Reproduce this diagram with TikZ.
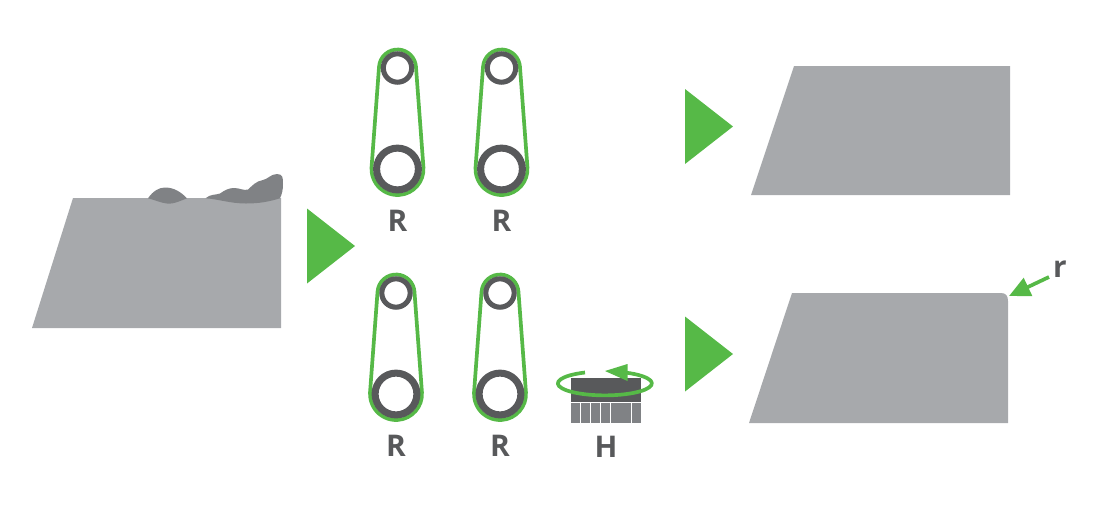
\documentclass[tikz,border=0pt]{standalone}
\usepackage{fontspec}
\setmainfont{Open Sans}
\usetikzlibrary{arrows.meta,calc}
\definecolor{beltgreen}{HTML}{56B947}
\definecolor{darkgray}{HTML}{58595B}
\definecolor{midgray}{HTML}{808285}
\definecolor{lightgray}{HTML}{A7A9AC}
\tikzset{
  block/.style={fill=lightgray},
  deposit/.style={fill=midgray},
  playarrow/.style={fill=beltgreen},
  belt/.style={draw=beltgreen,line width=2.1pt,line join=round},
  bigring/.style={draw=darkgray,line width=4pt},
  smallring/.style={draw=darkgray,line width=2.9pt},
  letter/.style={text=darkgray,font=\fontsize{17}{18}\selectfont\bfseries,inner sep=0pt},
}
\begin{document}
\begin{tikzpicture}[x=0.02cm,y=-0.02cm]
    \useasboundingbox (0,0) rectangle (1100,508);
    % incoming block
    \fill[block] (73,198) -- (281,198) -- (281,328) -- (32,328) -- cycle;
    \fill[deposit] (148,198.3) .. controls (153,191) and (159,187.5) .. (165,187.5)
      .. controls (174,187.5) and (181,192) .. (187,198.3)
      .. controls (180,201) and (174,204) .. (168,203.7)
      .. controls (161,203) and (155,200) .. (148,198.3) -- cycle;
    \fill[deposit] (205.5,198.3) .. controls (210,194) and (216,195) .. (220,193.5)
      .. controls (225,190) and (229,188) .. (234,188)
      .. controls (240,188) and (244,191) .. (248,189.5)
      .. controls (252,186) and (256,181) .. (263,180)
      .. controls (268,179) and (271,174) .. (277,174)
      .. controls (283,174) and (283,178) .. (283,184)
      .. controls (283,190) and (282,194) .. (280,198.3)
      .. controls (268,202) and (258,203.5) .. (246,203.5)
      .. controls (230,203.5) and (218,199) .. (205.5,198.3) -- cycle;
    % play arrows
    \foreach \x/\y in {307/246,685/126.5,685/354} {
      \fill[playarrow] (\x,\y-37.5) -- (\x+48,\y) -- (\x,\y+37.5) -- cycle;
    }
    % belts
    \foreach \n/\x/\y in {a/397.5/68,b/501.5/68,c/396/293,d/500/293} {
      \draw[belt] (\x,\y)+(184:18.5) arc[start angle=184,end angle=356,radius=18.5]
        -- ($(\x,\y+101)+(356:26)$) arc[start angle=356,end angle=544,radius=26] -- cycle;
      \draw[smallring,fill=white] (\x,\y) circle (14.2);
      \draw[bigring,fill=white] (\x,\y+101) circle (20.9);
      \node[letter] (label\n) at (\x,\y+153) {R};
    }
    % head
    \fill[darkgray] (571,378) rectangle (641,401.5);
    \foreach \i in {0,...,6} {
      \fill[midgray] (571.2+10.05*\i,402.8) rectangle (580.3+10.05*\i,423);
    }
    \draw[belt] (585,372.5) arc[start angle=245,end angle=-62,x radius=47,y radius=12];
    \fill[playarrow] (605,371) -- (627.5,364) -- (627.5,381) -- cycle;
    \node[letter] (labelh) at (606,447) {H};
    % finished blocks
    \fill[block] (794,66) -- (1010,66) -- (1010,195) -- (751,195) -- cycle;
    \fill[block] (792,293) -- (1001,293) .. controls (1006,293) and (1008,296) .. (1008,301)
      -- (1008,423) -- (749,423) -- cycle;
    % radius mark
    \node[letter] (labelr) at (1060,269) {r};
    \coordinate (rtail) at (1049,277);
    \coordinate (rtip) at (1009,296);
    \draw[beltgreen,line width=2.1pt,-{Triangle[length=12pt,width=11pt]}] (rtail) -- (rtip);
\end{tikzpicture}
\end{document}
